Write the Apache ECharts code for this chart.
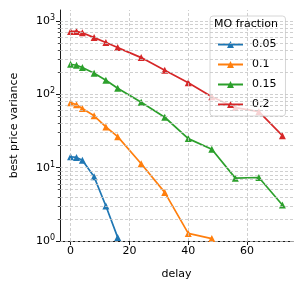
<!DOCTYPE html>
<html><head><meta charset="utf-8">
<script src="https://cdn.jsdelivr.net/npm/echarts@6/dist/echarts.min.js"></script>
<style>html,body{margin:0;padding:0;background:#fff}#c{width:302px;height:292px}</style>
</head><body><div id="c"></div>
<script>
const delay = [0, 2, 4, 8, 12, 16, 24, 32, 40, 48, 56, 64, 72];
const mo005 = [14.1, 13.8, 12.6, 7.5, 3.0, 1.12];
const mo01 = [77, 72, 64, 51, 36, 26.5, 11.3, 4.6, 1.27, 1.08];
const mo015 = [257, 249, 232, 194, 156, 121, 78, 48.7, 24.9, 17.8, 7.2, 7.35, 3.1];
const mo02 = [720, 722, 690, 594, 508, 434, 317, 213, 144, 93, 66, 58, 27.3];
const seriesNames = ['0.05', '0.1', '0.15', '0.2'];
const colors = ['#1f77b4', '#ff7f0e', '#2ca02c', '#d62728'];
const xTicks = [0, 20, 40, 60];
const yMajor = [1, 10, 100, 1000];
const yMinor = [2,3,4,5,6,7,8,9,20,30,40,50,60,70,80,90,200,300,400,500,600,700,800,900];

const font = 'DejaVu Sans';
const chart = echarts.init(document.getElementById('c'), null, {renderer: 'canvas'});
const allSeries = [mo005, mo01, mo015, mo02];
const gridStyle = {color: '#c4c4c4', width: 0.8, type: [3, 2]};
const gridLines = [];
yMajor.concat(yMinor).forEach(v => gridLines.push({yAxis: v}));
xTicks.forEach(v => gridLines.push({xAxis: v}));

const series = [{
  type: 'line', data: [], silent: true, z: 1,
  markLine: {silent: true, symbol: ['none', 'none'], label: {show: false},
    lineStyle: gridStyle, animation: false, data: gridLines}
}];
allSeries.forEach((vals, i) => {
  series.push({
    name: seriesNames[i], type: 'line', z: 3,
    data: vals.map((v, j) => [delay[j], v]),
    symbol: 'triangle', symbolSize: 7, showSymbol: true,
    lineStyle: {color: colors[i], width: 1.7},
    itemStyle: {color: colors[i]},
    color: colors[i]
  });
});

const legendIcon = 'path://M0,4 L25,4 L25,6 L0,6 Z M9,8.5 L12.5,1.5 L16,8.5 Z';
chart.setOption({
  animation: false,
  grid: {left: 60, right: 9, top: 10, bottom: 51},
  xAxis: {
    type: 'value', min: -3.6, max: 75.6,
    name: 'delay', nameLocation: 'middle', nameGap: 28,
    nameTextStyle: {fontFamily: font, fontSize: 11, color: '#000'},
    axisLine: {onZero: false, lineStyle: {color: '#000', width: 0.9}},
    axisTick: {length: 4, lineStyle: {color: '#000', width: 0.9}, customValues: xTicks},
    axisLabel: {fontFamily: font, fontSize: 11, color: '#000', margin: 5, customValues: xTicks},
    splitLine: {show: false}
  },
  yAxis: [{
    type: 'log', logBase: 10, min: 1, max: 1413,
    name: 'best price variance', nameLocation: 'middle', nameGap: 40,
    nameTextStyle: {fontFamily: font, fontSize: 11, color: '#000'},
    axisLine: {show: true, onZero: false, lineStyle: {color: '#000', width: 0.9}},
    axisTick: {show: true, length: 4, lineStyle: {color: '#000', width: 0.9}, customValues: yMajor},
    axisLabel: {
      fontFamily: font, fontSize: 11, color: '#000', margin: 5, customValues: yMajor,
      formatter: v => '{b|10}{s|' + Math.round(Math.log10(v)) + '}',
      rich: {b: {fontFamily: font, fontSize: 11, color: '#000'},
             s: {fontFamily: font, fontSize: 8, color: '#000', verticalAlign: 'top', padding: [0, 0, 6, 0]}}
    },
    splitLine: {show: false}
  }, {
    type: 'log', logBase: 10, min: 1, max: 1413, position: 'left',
    axisLine: {show: false, onZero: false},
    axisTick: {show: true, length: 2.2, lineStyle: {color: '#000', width: 0.7}, customValues: yMinor},
    axisLabel: {show: false},
    splitLine: {show: false}
  }],
  legend: {
    orient: 'vertical', left: 210, top: 16,
    padding: [23, 9, 6, 8], itemGap: 9, itemWidth: 25, itemHeight: 10,
    backgroundColor: 'rgba(255,255,255,0.8)', borderColor: '#cccccc', borderWidth: 0.8, borderRadius: 3,
    icon: legendIcon,
    textStyle: {fontFamily: font, fontSize: 11, color: '#000', padding: [0, 0, 0, 4]},
    data: seriesNames
  },
  graphic: [{
    type: 'text', left: 214, top: 19, z: 100,
    style: {text: 'MO fraction', fontFamily: font, fontSize: 11, fill: '#000'}
  }],
  series: series
});
</script></body></html>
